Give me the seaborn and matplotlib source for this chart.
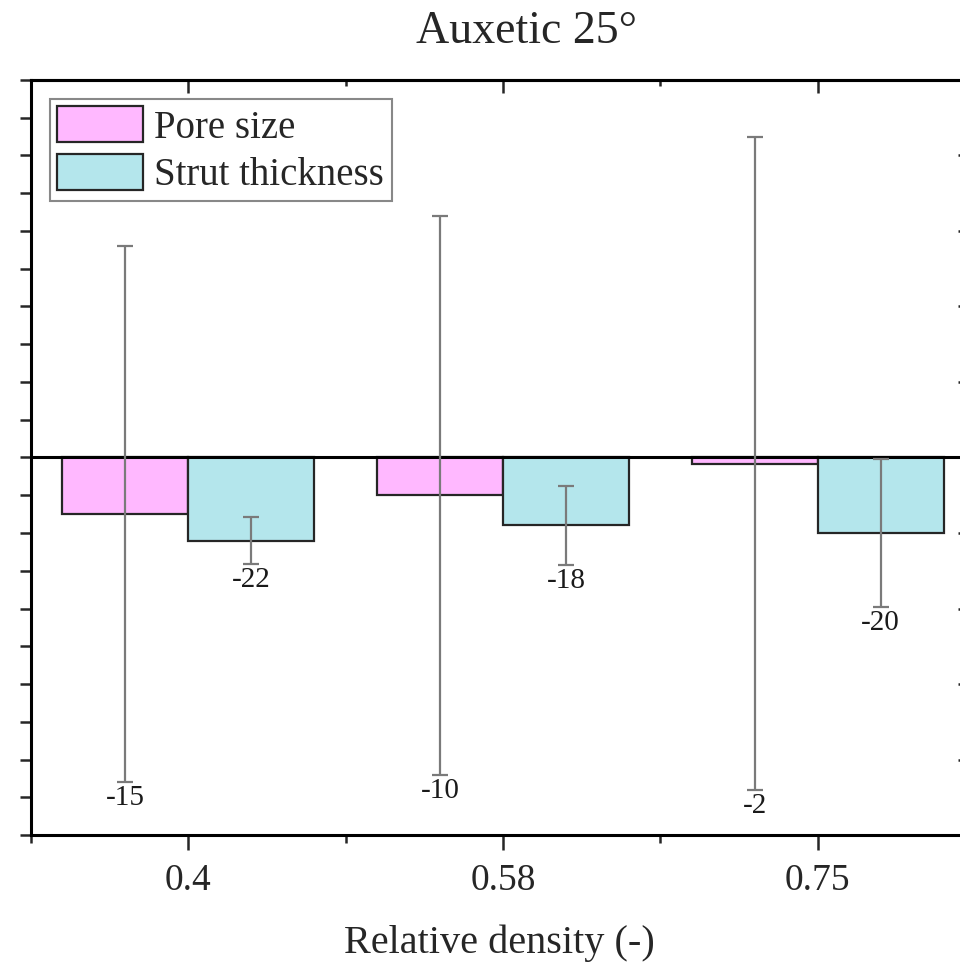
import numpy as np
import pandas as pd
import matplotlib
matplotlib.use('Agg')
import matplotlib.pyplot as plt
import seaborn as sns

# Data
densities = ['0.4', '0.58', '0.75']
series = ['Pore size', 'Strut thickness']
pore_size = [-15, -10, -1.6]
strut_thickness = [-22, -18, -20]
pore_err = [71, 74, 86.6]
strut_err = [6.2, 10.5, 19.5]
pore_labels = ['-15', '-10', '-2']
strut_labels = ['-22', '-18', '-20']
colors = ['#ffb8ff', '#b4e6ec']

df = pd.DataFrame({
    'density': densities * 2,
    'series': [series[0]] * 3 + [series[1]] * 3,
    'value': pore_size + strut_thickness,
    'err': pore_err + strut_err,
    'label': pore_labels + strut_labels,
})

sns.set_style('ticks')
plt.rcParams['font.family'] = ['Liberation Serif', 'DejaVu Serif']
plt.rcParams['axes.edgecolor'] = 'black'

fig = plt.figure(figsize=(9.6, 9.63), dpi=100)
ax = fig.add_axes([31 / 960, 1 - 835 / 963, 944 / 960, 755 / 963])

sns.barplot(data=df, x='density', y='value', hue='series', order=densities,
            hue_order=series, palette=colors, saturation=1, errorbar=None,
            width=0.8, edgecolor='#262626', linewidth=1.6, ax=ax)

ax.axhline(0, color='black', lw=2.2, zorder=3)

# error bars and value labels, placed from the bars seaborn drew
for cont, level in zip(ax.containers, series):
    sub = df[df['series'] == level]
    for bar, (_, row) in zip(cont, sub.iterrows()):
        x = bar.get_x() + bar.get_width() / 2
        ax.errorbar(x, row['value'], yerr=row['err'], fmt='none',
                    ecolor='#7a7a7a', elinewidth=1.6, capsize=5.5,
                    capthick=1.6, zorder=4)
        ax.annotate(row['label'], (x, row['value'] - row['err']),
                    xytext=(0, -11.5), textcoords='offset points',
                    ha='center', va='center', fontsize=21, color='#1a1a1a')

ax.set_xlim(-0.5, 2.5)
ax.set_ylim(-100, 100)
ax.set_yticks(np.arange(-100, 101, 10))
ax.set_xticks([-0.5, 0.5, 1.5, 2.5], minor=True)
ax.tick_params(axis='y', direction='out', length=8, width=1.8,
               labelleft=False)
ax.tick_params(axis='x', which='major', direction='out', length=10.8,
               width=1.8, labelsize=27, pad=10)
ax.tick_params(axis='x', which='minor', direction='out', length=5.8,
               width=1.8)
ax.set_ylabel('')
ax.set_xlabel('Relative density (-)', fontsize=29, va='baseline')
ax.xaxis.set_label_coords((499 - 31) / 944, (835 - 953) / 755)

for sp in ax.spines.values():
    sp.set_linewidth(2.2)

# mirrored ticks on top and right
top = ax.secondary_xaxis('top')
top.set_xticks([0, 1, 2])
top.set_xticks([-0.5, 0.5, 1.5, 2.5], minor=True)
top.tick_params(which='major', direction='in', length=9.4, width=1.8,
                labeltop=False)
top.tick_params(which='minor', direction='in', length=4, width=1.8)
top.spines['top'].set_linewidth(2.2)

right = ax.secondary_yaxis('right')
right.set_yticks(np.arange(-80, 81, 20))
right.tick_params(direction='in', length=12, width=1.8, labelright=False)

handles, labels = ax.get_legend_handles_labels()
leg = ax.legend(handles, labels, loc='upper left',
                bbox_to_anchor=(0.020, 0.975), borderaxespad=0, fontsize=28,
                frameon=True, fancybox=False, edgecolor='#888888',
                framealpha=1, handlelength=2.2, handleheight=1.05,
                handletextpad=0.3, labelspacing=0.18, borderpad=0.19)
leg.get_frame().set_linewidth(1.5)

fig.text(526 / 960, 1 - 43 / 963, 'Auxetic 25°', ha='center',
         va='baseline', fontsize=33)

fig.savefig('out.png', dpi=100)
